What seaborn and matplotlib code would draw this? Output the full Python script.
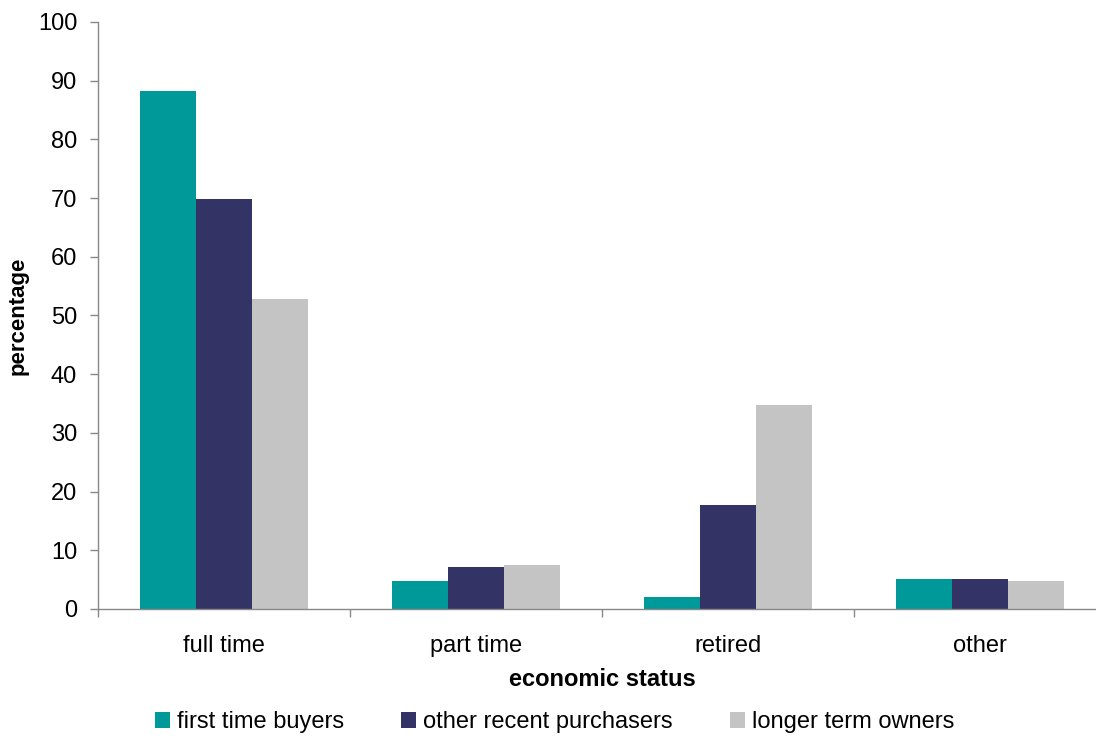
import matplotlib
matplotlib.use("Agg")
import matplotlib.pyplot as plt
from matplotlib.ticker import FixedLocator, NullFormatter
import seaborn as sns
import pandas as pd

# Economic status of home owners, by purchaser group (percentages)
categories = ["full time", "part time", "retired", "other"]
groups = ["first time buyers", "other recent purchasers", "longer term owners"]
first_time_buyers = [88.2, 4.8, 2.0, 5.1]
other_recent_purchasers = [69.8, 7.2, 17.7, 5.1]
longer_term_owners = [52.8, 7.5, 34.8, 4.8]
colors = ["#009999", "#333366", "#C4C4C4"]

df = pd.DataFrame({
    "status": categories * 3,
    "group": [g for g in groups for _ in categories],
    "value": first_time_buyers + other_recent_purchasers + longer_term_owners,
})

sns.set_theme(style="white")
plt.rcParams["font.family"] = ["Liberation Sans", "DejaVu Sans"]
plt.rcParams["text.color"] = "black"
plt.rcParams["axes.labelcolor"] = "black"
plt.rcParams["xtick.labelcolor"] = "black"
plt.rcParams["ytick.labelcolor"] = "black"

fig = plt.figure(figsize=(10.96, 7.36), dpi=100)
ax = fig.add_axes([0.0894, 0.1726, 0.9197, 0.7976])

sns.barplot(data=df, x="status", y="value", hue="group", order=categories,
            hue_order=groups, palette=colors, width=0.67, gap=0,
            saturation=1, linewidth=0, ax=ax, legend=True)

ax.set_xlim(-0.5, len(categories) - 0.5)
ax.set_ylim(0, 100)
ax.set_yticks(range(0, 101, 10))

spine_color = "#888888"
for side in ("top", "right"):
    ax.spines[side].set_visible(False)
for side in ("left", "bottom"):
    ax.spines[side].set_color(spine_color)
    ax.spines[side].set_linewidth(1.0)

ax.tick_params(axis="y", which="major", direction="out", length=6, width=1,
               color=spine_color, labelsize=17, pad=9, left=True)
ax.tick_params(axis="x", which="major", length=0, labelsize=17, pad=19)
ax.xaxis.set_minor_locator(FixedLocator([i - 0.5 for i in range(len(categories) + 1)]))
ax.xaxis.set_minor_formatter(NullFormatter())
ax.tick_params(axis="x", which="minor", direction="out", length=6, width=1,
               color=spine_color, bottom=True)

ax.set_xlabel("economic status", fontsize=17, fontweight="bold", labelpad=8)
ax.set_ylabel("percentage", fontsize=16, fontweight="bold")
ax.yaxis.set_label_coords(-0.069, 0.5)

handles, labels = ax.get_legend_handles_labels()
ax.get_legend().remove()
fig.legend(handles, labels, loc="center", bbox_to_anchor=(0.506, 0.019),
           ncol=3, frameon=False, fontsize=17, handlelength=0.65,
           handleheight=0.65, handletextpad=0.3, columnspacing=2.4,
           borderpad=0)

fig.savefig("out.png", dpi=100)
